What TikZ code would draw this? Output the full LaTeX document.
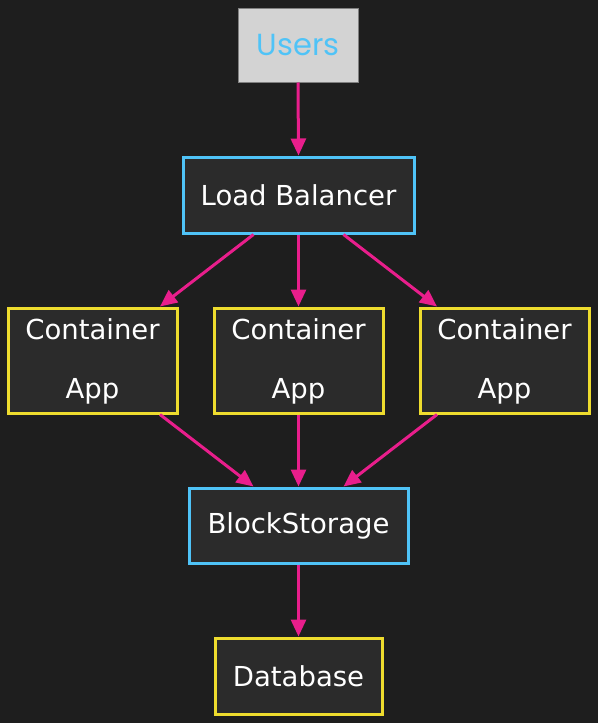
\documentclass[tikz,border=0pt]{standalone}
\usepackage{fontspec}
\setmainfont{DejaVu Sans}
\newfontfamily\usersfont{Poppins}
\usetikzlibrary{arrows.meta,calc}
\definecolor{bg}{HTML}{1E1E1E}
\definecolor{nodefill}{HTML}{2B2B2B}
\definecolor{ublue}{HTML}{4FC3F7}
\definecolor{uyellow}{HTML}{EEDC2E}
\definecolor{umag}{HTML}{E91E8C}
\definecolor{ugrey}{HTML}{D3D3D3}
\tikzset{
  x=1pt,y=-1pt,
  lbl/.style={text=white,font=\fontsize{27.5}{32}\selectfont},
  base/.style={rectangle,fill=nodefill,lbl,line width=3pt,inner sep=0pt,align=center},
  bluebox/.style={base,draw=ublue},
  yellowbox/.style={base,draw=uyellow},
  edge/.style={draw=umag,line width=3pt,-{Triangle[length=17pt,width=15pt]}},
}
\begin{document}
\begin{tikzpicture}
\fill[bg] (0,0) rectangle (598,723);
\useasboundingbox (0,0) rectangle (598,723);
\node[rectangle,fill=ugrey,draw=gray,line width=1pt,minimum width=120pt,minimum height=74pt,
  text=ublue,font=\usersfont\fontsize{30.5}{34}\selectfont] (users) at (298,45) {Users};
\node[bluebox,minimum width=231pt,minimum height=76pt] (lb) at (298.5,195) {Load Balancer};
\node[yellowbox,minimum width=169pt,minimum height=105pt] (c1) at (92.5,360.5) {};
\node[yellowbox,minimum width=169pt,minimum height=105pt] (c2) at (298.5,360.5) {};
\node[yellowbox,minimum width=169pt,minimum height=105pt] (c3) at (504.5,360.5) {};
\foreach \n in {c1,c2,c3}{
  \node[lbl] (\n t) at ($(\n.center)+(0,-31)$) {Container};
  \node[lbl] (\n b) at ($(\n.center)+(0,31)$) {App};
}
\node[bluebox,minimum width=219pt,minimum height=75pt] (bs) at (298.5,525.5) {BlockStorage};
\node[yellowbox,minimum width=167pt,minimum height=76pt] (db) at (298.5,676) {Database};
\draw[edge] (users.south) -- (lb.north);
\draw[edge] ([xshift=-45pt]lb.south) -- ([xshift=67.5pt]c1.north);
\draw[edge] (lb.south) -- (c2.north);
\draw[edge] ([xshift=45pt]lb.south) -- ([xshift=-67.5pt]c3.north);
\draw[edge] ([xshift=67.5pt]c1.south) -- ([xshift=-45pt]bs.north);
\draw[edge] (c2.south) -- (bs.north);
\draw[edge] ([xshift=-67.5pt]c3.south) -- ([xshift=45pt]bs.north);
\draw[edge] (bs.south) -- (db.north);
\end{tikzpicture}
\end{document}
